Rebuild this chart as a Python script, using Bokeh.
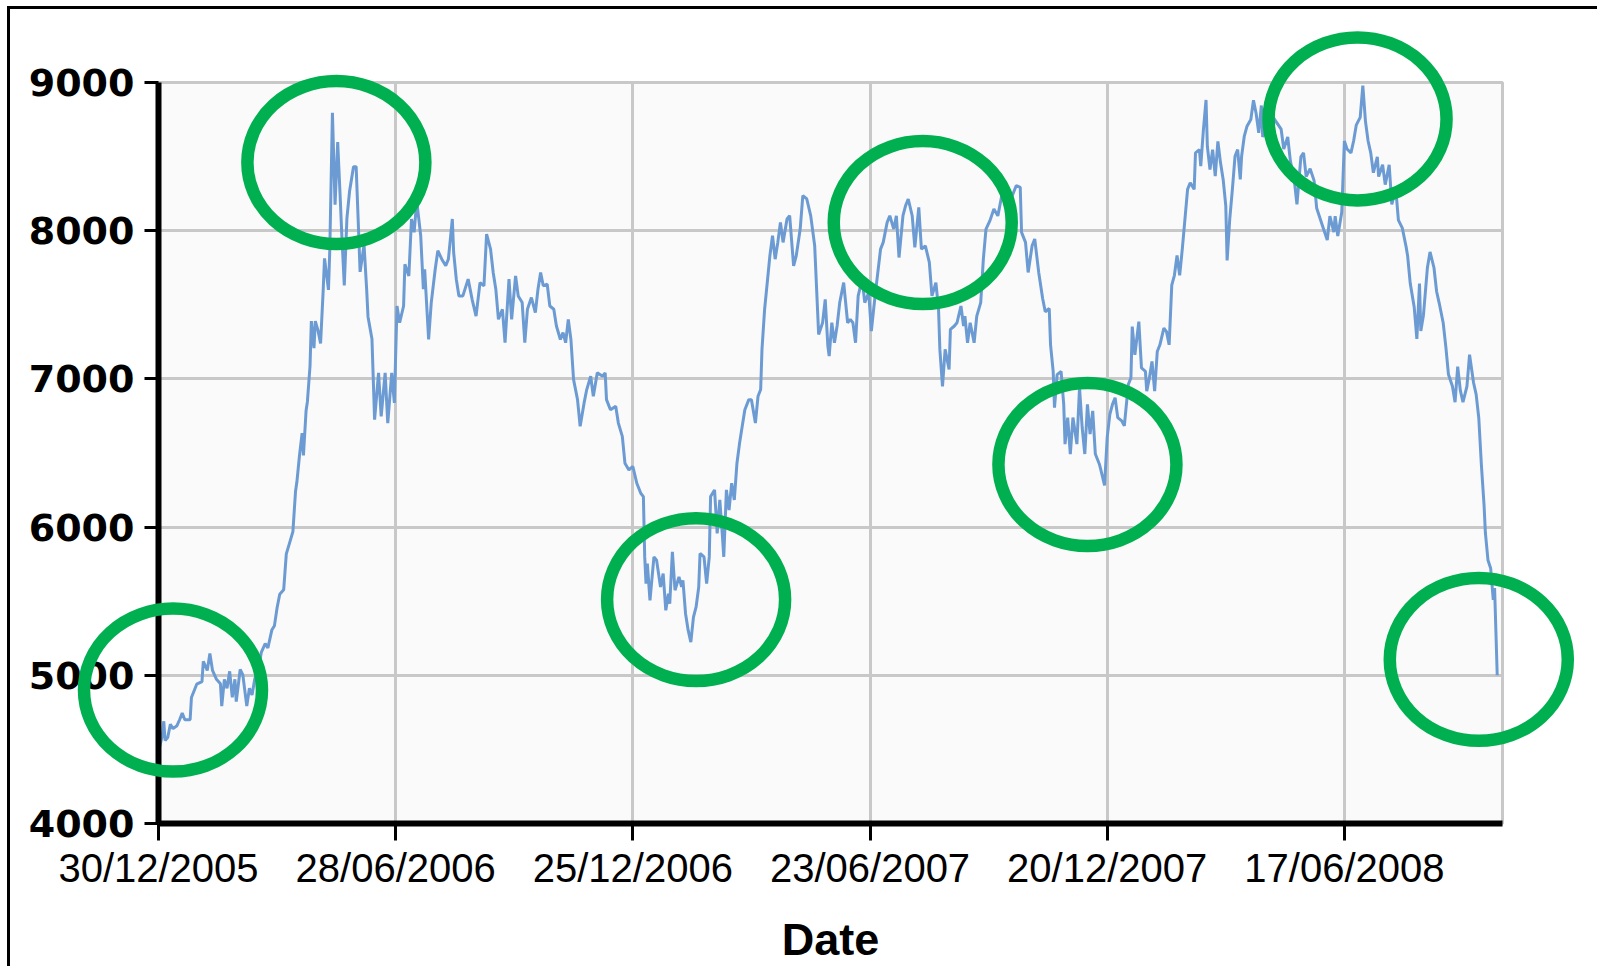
import pandas as pd
from bokeh.plotting import figure
from bokeh.models import FixedTicker, Range1d
from bokeh.embed import file_html
from bokeh.resources import INLINE

# ---------------- data ----------------
start_date = "2005-12-30"

day_offsets = [
    1, 3, 4, 5, 7, 9, 11, 14, 16, 18, 20, 24, 25, 29, 33, 34, 37, 39, 41, 44,
    47, 48, 50, 52, 54, 56, 58, 59, 62, 64, 67, 69, 71, 73, 76, 78, 81, 83, 86, 88,
    90, 92, 95, 96, 97, 100, 102, 104, 105, 107, 109, 110, 112, 113, 115, 116, 118, 119, 121, 123,
    125, 126, 129, 130, 132, 134, 136, 138, 139, 141, 143, 145, 148, 150, 152, 153, 156, 158, 159, 162,
    164, 167, 169, 172, 174, 177, 179, 181,
    183, 186, 187, 190, 192, 194, 196, 199, 201, 202, 205, 207, 210, 212, 215, 218, 220, 223, 224, 226,
    228, 231, 235, 238, 241, 244, 247, 249, 252, 254, 256, 258, 261, 263, 266, 268, 271, 273, 276, 278,
    280, 283, 286, 288, 290, 292, 295, 297, 300, 302, 305, 307, 309, 311, 313, 315, 318, 320, 323, 325,
    328, 330, 333,
    337, 339, 340, 343, 347, 349, 352, 354, 357, 360, 363, 366, 368, 369, 370, 371, 373, 376, 378, 381,
    383, 385, 387, 388, 390, 392, 395, 397, 398, 400, 402, 404, 406, 408, 410, 411, 414, 416, 418, 419,
    422, 424, 426, 428, 429, 431, 433, 435, 437, 439, 441, 443, 445, 448, 450, 453, 455, 457, 458, 460,
    462, 464, 466, 468, 470, 472, 474, 477, 479, 482, 484, 487, 489, 492, 495, 498, 501,
    504, 506, 508, 509, 511, 513, 515, 517, 520, 523, 525, 527, 529, 531, 534, 536, 539, 541, 543, 545,
    548, 550, 553, 555, 558, 560, 562, 565, 567, 569, 572, 574, 577, 579, 582, 585, 587, 590, 592, 593,
    595, 597, 600, 601, 604, 606, 609, 611, 612, 614, 616, 619, 621, 624, 626, 628, 631, 634, 637, 640,
    644, 648, 651, 654, 655, 658, 660, 663, 665, 668,
    671, 673, 676, 677, 679, 680, 682, 685, 687, 688, 690, 692, 694, 697, 699, 701, 703, 705, 707, 709,
    711, 714, 715, 718, 720, 722, 724, 726, 728, 731, 733, 736, 738, 739, 741, 744, 746, 749, 750, 752,
    754, 756, 758, 760, 763, 765, 767, 769, 771, 773, 775, 777, 779, 781, 783, 786, 787, 790, 791, 793,
    795, 796, 798, 800, 802, 804, 806, 808, 810, 811, 813, 815, 817, 819, 821, 822, 824, 826, 829, 831,
    833, 835, 837,
    838, 841, 844, 848, 852, 854, 857, 859, 862, 864, 867, 869, 871, 874, 877, 879, 882, 884, 887, 889,
    892, 893, 895, 898, 900, 902, 905, 907, 909, 912, 914, 916, 918, 920, 922, 925, 926, 929, 931, 934,
    936, 939, 941, 944, 947, 948, 950, 953, 955, 957, 958, 960, 963, 965, 968, 970, 972, 975, 977, 979,
    982, 984, 986, 988, 990, 993, 995, 998, 1000, 1002, 1004, 1006, 1007, 1009, 1011, 1013, 1014, 1016,
]

index_values = [
    4520, 4600, 4690, 4560, 4580, 4670, 4640, 4660, 4700, 4745, 4700, 4700, 4850, 4940, 4957, 5094, 5033, 5148, 5033, 4973,
    4943, 4792, 4973, 4912, 5027, 4852, 4973, 4822, 5039, 5003, 4792, 4912, 4867, 4973, 5050, 5154, 5214, 5184, 5305, 5335,
    5456, 5547, 5577, 5698, 5819, 5909, 5970, 6242, 6302, 6483, 6634, 6483, 6785, 6846, 7087, 7390, 7208, 7390, 7329, 7239,
    7601, 7813, 7601, 7873, 8795, 8175, 8598, 8205, 7994, 7631, 8085, 8266, 8432, 8432, 7964, 7722, 7903, 7601, 7420, 7269,
    6725, 7041, 6747, 7041, 6702, 7041, 6838, 7492,
    7379, 7492, 7774, 7695, 8079, 7989, 8200, 7966, 7605, 7740, 7266, 7515, 7740, 7865, 7808, 7763, 7808, 8079, 7853, 7673,
    7560, 7560, 7673, 7537, 7424, 7650, 7628, 7977, 7876, 7718, 7605, 7402, 7470, 7244, 7673, 7402, 7695, 7560, 7515, 7244,
    7470, 7549, 7447, 7605, 7718, 7628, 7639, 7492, 7470, 7357, 7266, 7312, 7244, 7402, 7266, 6996, 6860, 6680, 6838, 6928,
    7018, 6883, 7041,
    7018, 7041, 6860, 6792, 6815, 6702, 6612, 6431, 6386, 6409, 6296, 6228, 6206, 5799, 5619, 5754, 5506, 5799, 5777, 5596,
    5687, 5438, 5551, 5483, 5833, 5574, 5664, 5596, 5641, 5416, 5303, 5224, 5393, 5461, 5596, 5822, 5799, 5619, 5799, 6206,
    6251, 5957, 6183, 5935, 5799, 6251, 6115, 6296, 6183, 6431, 6567, 6680, 6792, 6860, 6860, 6702, 6883, 6928, 7199, 7470,
    7650, 7831, 7966, 7808, 7921, 8056, 7921, 8079, 8101, 7763, 7831, 8011, 8237, 8214, 8100, 7898, 7300,
    7379, 7537, 7221, 7154, 7379, 7244, 7357, 7515, 7650, 7379, 7402, 7379, 7244, 7560, 7673, 7515, 7582, 7323, 7492, 7650,
    7876, 7921, 8056, 8101, 8011, 8101, 7819, 8101, 8169, 8214, 8101, 7887, 8158, 7876, 7898, 7786, 7560, 7650, 7470, 7199,
    6950, 7199, 7063, 7334, 7357, 7379, 7492, 7357, 7424, 7244, 7379, 7244, 7424, 7515, 7808, 8011, 8068, 8147, 8100, 8237,
    8169, 8237, 8305, 8293, 7989, 7921, 7718, 7898, 7944, 7720,
    7542, 7453, 7475, 7230, 7051, 6806, 7029, 7051, 6828, 6560, 6739, 6493, 6739, 6560, 6940, 6672, 6493, 6828, 6627, 6784,
    6493, 6426, 6393, 6281, 6605, 6761, 6828, 6873, 6739, 6717, 6683, 6962, 7007, 7353, 7163, 7386, 7074, 7051, 6917, 7007,
    7118, 6917, 7185, 7230, 7342, 7319, 7230, 7632, 7699, 7833, 7699, 7877, 8078, 8279, 8324, 8279, 8525, 8547, 8435, 8681,
    8882, 8570, 8413, 8547, 8368, 8603, 8458, 8346, 8167, 7799, 8078, 8279, 8502, 8547, 8346, 8502, 8636, 8703, 8750, 8880,
    8793, 8660, 8845,
    8632, 8738, 8792, 8738, 8685, 8551, 8632, 8471, 8338, 8178, 8498, 8525, 8365, 8418, 8338, 8151, 8071, 8017, 7937, 8098,
    7991, 8098, 7964, 8124, 8605, 8551, 8525, 8605, 8712, 8765, 8979, 8738, 8605, 8525, 8391, 8498, 8365, 8445, 8311, 8445,
    8178, 8284, 8071, 8017, 7884, 7830, 7643, 7483, 7270, 7643, 7323, 7430, 7750, 7857, 7750, 7590, 7510, 7377, 7216, 7029,
    6950, 6843, 7083, 6923, 6843, 6950, 7163, 6976, 6896, 6736, 6416, 6149, 5962, 5776, 5723, 5509, 5589, 5000,
]

x_end_offset = 1020
tick_dates = ["2005-12-30", "2006-06-28", "2006-12-25", "2007-06-23", "2007-12-20", "2008-06-17"]
tick_labels = ["30/12/2005", "28/06/2006", "25/12/2006", "23/06/2007", "20/12/2007", "17/06/2008"]
y_ticks = [4000, 5000, 6000, 7000, 8000, 9000]
y_min, y_max = 4000, 9000

# highlighted regions (green rings)
ring_day_offsets = [11, 135, 408, 580, 705, 910, 1002]
ring_values = [4900, 8460, 5511, 8055, 6422, 8754, 5107]

# ---------------- build ----------------
t0 = pd.Timestamp(start_date)
dates = t0 + pd.to_timedelta(day_offsets, unit="D")
ring_dates = t0 + pd.to_timedelta(ring_day_offsets, unit="D")
tick_ms = [float(pd.Timestamp(d).value // 10**6) for d in tick_dates]

W, H = 1590, 960
p = figure(
    width=W, height=H,
    x_axis_type="datetime",
    x_range=Range1d(t0, t0 + pd.Timedelta(days=x_end_offset)),
    y_range=Range1d(y_min, y_max),
    output_backend="svg", toolbar_location=None,
    min_border_left=148, min_border_right=98, min_border_top=73, min_border_bottom=146,
)
p.margin = (6, 0, 0, 7)
p.styles = {"border-left": "3px solid black", "border-top": "3px solid black"}

p.background_fill_color = "#FAFAFA"
p.border_fill_color = "white"
p.outline_line_color = "#C8C8C8"
p.outline_line_width = 3

# grids
p.xgrid.ticker = FixedTicker(ticks=tick_ms)
p.ygrid.ticker = FixedTicker(ticks=y_ticks)
for g in (p.xgrid, p.ygrid):
    g.grid_line_color = "#C8C8C8"
    g.grid_line_width = 3

# x axis
xa = p.xaxis[0]
xa.ticker = FixedTicker(ticks=tick_ms)
xa.major_label_overrides = {t: lab for t, lab in zip(tick_ms, tick_labels)}
xa.axis_line_color = "black"
xa.axis_line_width = 6
xa.major_tick_line_color = "black"
xa.major_tick_line_width = 3
xa.major_tick_in = 0
xa.major_tick_out = 17
xa.minor_tick_line_color = None
xa.major_label_text_font = "Liberation Sans"
xa.major_label_text_font_size = "40px"
xa.major_label_text_color = "black"
xa.major_label_standoff = 5
xa.axis_label = "Date"
xa.axis_label_text_font = "Liberation Sans"
xa.axis_label_text_font_style = "bold"
xa.axis_label_text_font_size = "45px"
xa.axis_label_text_color = "black"
xa.axis_label_standoff = 21

# y axis
ya = p.yaxis[0]
ya.ticker = FixedTicker(ticks=y_ticks)
ya.axis_line_color = "black"
ya.axis_line_width = 6
ya.major_tick_line_color = "black"
ya.major_tick_line_width = 3
ya.major_tick_in = 0
ya.major_tick_out = 14
ya.minor_tick_line_color = None
ya.major_label_text_font = "DejaVu Sans"
ya.major_label_text_font_style = "bold"
ya.major_label_text_font_size = "38px"
ya.major_label_text_color = "black"
ya.major_label_standoff = 10

# series
p.line(dates, index_values, line_color="#6B9BD2", line_width=3)

# green rings (drawn on top, not clipped to the plot frame)
p.ellipse(x=ring_dates, y=ring_values, width=178, height=163,
          width_units="screen", height_units="screen",
          fill_color=None, line_color="#00B050", line_width=12.5,
          level="overlay")

open("out.html", "w").write(file_html(p, INLINE))
